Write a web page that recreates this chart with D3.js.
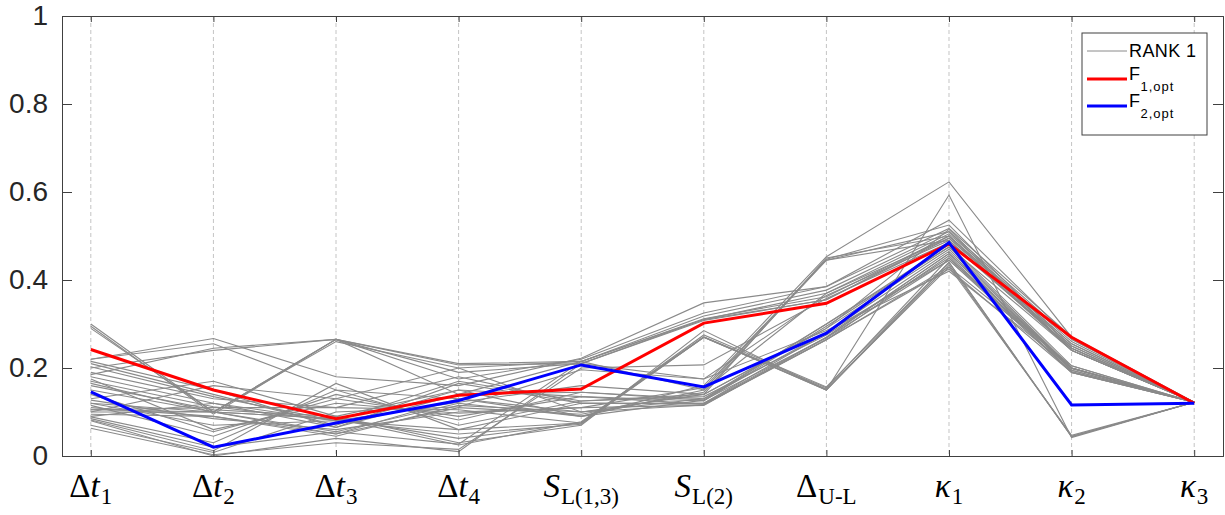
<!DOCTYPE html>
<html>
<head>
<meta charset="utf-8">
<script src="https://cdn.jsdelivr.net/npm/d3@7"></script>
<style>
  body { margin: 0; background: #fff; }
  svg { display: block; }
</style>
</head>
<body>
<svg id="chart" width="1225" height="515"></svg>
<script>
// axis categories and their math labels
var categories = ["dt1", "dt2", "dt3", "dt4", "SL13", "SL2", "dUL", "k1", "k2", "k3"];
var labelMain = [
  [["Δ", 0], ["t", 1]], [["Δ", 0], ["t", 1]], [["Δ", 0], ["t", 1]], [["Δ", 0], ["t", 1]],
  [["S", 1]], [["S", 1]], [["Δ", 0]],
  [["κ", 1]], [["κ", 1]], [["κ", 1]]
];
var labelSub = ["1", "2", "3", "4", "L(1,3)", "L(2)", "U-L", "1", "2", "3"];
var yTicks = [0, 0.2, 0.4, 0.6, 0.8, 1];

// rank 1 solutions (gray)
var rank1 = [
  [0.30, 0.10, 0.265, 0.21, 0.215, 0.318, 0.377, 0.51, 0.265, 0.122],
  [0.295, 0.095, 0.265, 0.207, 0.21, 0.31, 0.37, 0.505, 0.26, 0.122],
  [0.29, 0.10, 0.26, 0.20, 0.215, 0.312, 0.362, 0.50, 0.255, 0.122],
  [0.185, 0.245, 0.265, 0.175, 0.22, 0.325, 0.385, 0.517, 0.271, 0.122],
  [0.20, 0.24, 0.265, 0.19, 0.21, 0.308, 0.355, 0.495, 0.25, 0.122],
  [0.22, 0.267, 0.18, 0.16, 0.222, 0.348, 0.385, 0.536, 0.265, 0.122],
  [0.11, 0.09, 0.05, 0.13, 0.09, 0.16, 0.453, 0.623, 0.27, 0.122],
  [0.105, 0.10, 0.055, 0.12, 0.09, 0.15, 0.447, 0.525, 0.245, 0.122],
  [0.10, 0.10, 0.05, 0.11, 0.095, 0.145, 0.445, 0.51, 0.24, 0.122],
  [0.095, 0.09, 0.045, 0.115, 0.10, 0.14, 0.45, 0.50, 0.24, 0.122],
  [0.127, 0.085, 0.06, 0.10, 0.11, 0.155, 0.445, 0.49, 0.245, 0.122],
  [0.18, 0.12, 0.08, 0.06, 0.075, 0.275, 0.157, 0.44, 0.044, 0.122],
  [0.17, 0.112, 0.08, 0.05, 0.072, 0.27, 0.15, 0.435, 0.044, 0.122],
  [0.165, 0.10, 0.085, 0.04, 0.075, 0.27, 0.152, 0.43, 0.047, 0.122],
  [0.16, 0.105, 0.09, 0.03, 0.07, 0.285, 0.15, 0.593, 0.042, 0.122],
  [0.15, 0.10, 0.085, 0.025, 0.078, 0.271, 0.155, 0.45, 0.20, 0.122],
  [0.215, 0.15, 0.065, 0.14, 0.145, 0.13, 0.30, 0.48, 0.205, 0.122],
  [0.21, 0.14, 0.07, 0.15, 0.135, 0.125, 0.295, 0.475, 0.20, 0.122],
  [0.203, 0.135, 0.08, 0.17, 0.125, 0.14, 0.29, 0.47, 0.198, 0.122],
  [0.19, 0.13, 0.11, 0.18, 0.12, 0.12, 0.28, 0.465, 0.195, 0.122],
  [0.175, 0.06, 0.12, 0.097, 0.11, 0.115, 0.27, 0.46, 0.195, 0.122],
  [0.14, 0.055, 0.13, 0.09, 0.135, 0.118, 0.264, 0.455, 0.19, 0.122],
  [0.115, 0.045, 0.14, 0.082, 0.145, 0.127, 0.268, 0.445, 0.19, 0.122],
  [0.089, 0.03, 0.15, 0.07, 0.125, 0.135, 0.275, 0.45, 0.192, 0.122],
  [0.082, 0.012, 0.165, 0.06, 0.12, 0.118, 0.265, 0.425, 0.19, 0.122],
  [0.07, 0.008, 0.10, 0.112, 0.196, 0.175, 0.285, 0.42, 0.20, 0.122],
  [0.063, 0.003, 0.03, 0.015, 0.20, 0.207, 0.358, 0.485, 0.245, 0.122],
  [0.08, 0.0, 0.04, 0.01, 0.21, 0.175, 0.365, 0.49, 0.24, 0.122],
  [0.085, 0.02, 0.055, 0.027, 0.215, 0.15, 0.37, 0.495, 0.25, 0.122],
  [0.12, 0.07, 0.08, 0.122, 0.16, 0.14, 0.29, 0.515, 0.24, 0.122],
  [0.13, 0.17, 0.09, 0.15, 0.09, 0.127, 0.30, 0.475, 0.24, 0.122],
  [0.10, 0.16, 0.13, 0.20, 0.10, 0.116, 0.264, 0.43, 0.205, 0.122],
  [0.22, 0.255, 0.15, 0.13, 0.10, 0.13, 0.28, 0.445, 0.20, 0.122],
  [0.12, 0.10, 0.265, 0.14, 0.215, 0.31, 0.355, 0.50, 0.255, 0.122],
  [0.105, 0.11, 0.11, 0.105, 0.075, 0.27, 0.15, 0.44, 0.044, 0.122],
  [0.09, 0.12, 0.065, 0.165, 0.12, 0.12, 0.27, 0.46, 0.20, 0.122]
];
var f1opt = [0.242, 0.15, 0.085, 0.138, 0.152, 0.302, 0.347, 0.482, 0.27, 0.12];
var f2opt = [0.146, 0.02, 0.075, 0.126, 0.207, 0.157, 0.279, 0.485, 0.116, 0.12];

var margin = {top: 16, right: 2, bottom: 59, left: 62},
    width = 1225 - margin.left - margin.right,
    height = 515 - margin.top - margin.bottom;

var svg = d3.select("#chart")
  .append("g")
  .attr("transform", "translate(" + margin.left + "," + margin.top + ")");

var x = d3.scalePoint()
  .domain(categories)
  .range([0, width])
  .padding(0.235);

var y = d3.scaleLinear()
  .domain([0, 1])
  .range([height, 0]);

// dashed vertical grid
svg.selectAll(".grid")
  .data(categories)
  .enter()
  .append("line")
  .attr("class", "grid")
  .attr("x1", function(d) { return x(d); })
  .attr("x2", function(d) { return x(d); })
  .attr("y1", 0)
  .attr("y2", height)
  .attr("stroke", "#c4c4c4")
  .attr("stroke-dasharray", "4,3");

var line = d3.line()
  .x(function(d, i) { return x(categories[i]); })
  .y(function(d) { return y(d); });

svg.selectAll(".rank1")
  .data(rank1)
  .enter()
  .append("path")
  .attr("class", "rank1")
  .attr("d", line)
  .attr("fill", "none")
  .attr("stroke", "#8a8a8a")
  .attr("stroke-width", 1.1);

svg.append("path")
  .attr("d", line(f1opt))
  .attr("fill", "none")
  .attr("stroke", "#ff0000")
  .attr("stroke-width", 3);

svg.append("path")
  .attr("d", line(f2opt))
  .attr("fill", "none")
  .attr("stroke", "#0000ff")
  .attr("stroke-width", 3);

// axes (matlab style, ticks inside, box on)
var yAxis = svg.append("g")
  .call(d3.axisLeft(y).tickValues(yTicks).tickSize(-10).tickPadding(14)
    .tickFormat(function(d) { return d3.format("")(+d.toFixed(1)); }));
yAxis.selectAll("text")
  .attr("font-family", "Liberation Sans, Arial, sans-serif")
  .attr("font-size", 28)
  .attr("fill", "#262626");

svg.append("g")
  .attr("transform", "translate(" + width + ",0)")
  .call(d3.axisRight(y).tickValues(yTicks).tickSize(-10).tickFormat(""));

svg.append("g")
  .attr("transform", "translate(0," + height + ")")
  .call(d3.axisBottom(x).tickSize(-6).tickFormat(""));

svg.append("g")
  .call(d3.axisTop(x).tickSize(-6).tickFormat(""));

svg.selectAll(".domain, .tick line")
  .attr("stroke", "#404040");

// math style category labels
var labels = svg.append("g")
  .attr("font-family", "Liberation Serif, DejaVu Serif, serif")
  .attr("fill", "#000");

categories.forEach(function(c, i) {
  var t = labels.append("text")
    .attr("x", x(c))
    .attr("y", height + 41)
    .attr("text-anchor", "middle")
    .attr("font-size", 33);
  labelMain[i].forEach(function(p) {
    t.append("tspan")
      .attr("font-style", p[1] ? "italic" : "normal")
      .text(p[0]);
  });
  t.append("tspan")
    .attr("font-size", 23)
    .attr("dy", 7)
    .attr("dx", 1)
    .text(labelSub[i]);
});

// legend
var legend = svg.append("g")
  .attr("transform", "translate(" + (1082 - margin.left) + "," + (33 - margin.top) + ")");

legend.append("rect")
  .attr("width", 125)
  .attr("height", 102)
  .attr("fill", "#fff")
  .attr("stroke", "#404040");

var legendItems = [
  {name: "RANK 1", sub: "", color: "#8a8a8a", w: 1, yy: 18},
  {name: "F", sub: "1,opt", color: "#ff0000", w: 3, yy: 46},
  {name: "F", sub: "2,opt", color: "#0000ff", w: 3, yy: 73}
];

legendItems.forEach(function(d) {
  legend.append("line")
    .attr("x1", 5).attr("x2", 45)
    .attr("y1", d.yy).attr("y2", d.yy)
    .attr("stroke", d.color)
    .attr("stroke-width", d.w);
  var t = legend.append("text")
    .attr("x", 47)
    .attr("y", d.sub ? d.yy + 1 : d.yy + 6)
    .attr("font-family", "Liberation Sans, Arial, sans-serif")
    .attr("font-size", 18)
    .attr("letter-spacing", 0.4)
    .attr("fill", "#000")
    .text(d.name);
  if (d.sub) {
    t.append("tspan")
      .attr("font-size", 13)
      .attr("letter-spacing", 1)
      .attr("dy", 11)
      .text(d.sub);
  }
});
</script>
</body>
</html>
